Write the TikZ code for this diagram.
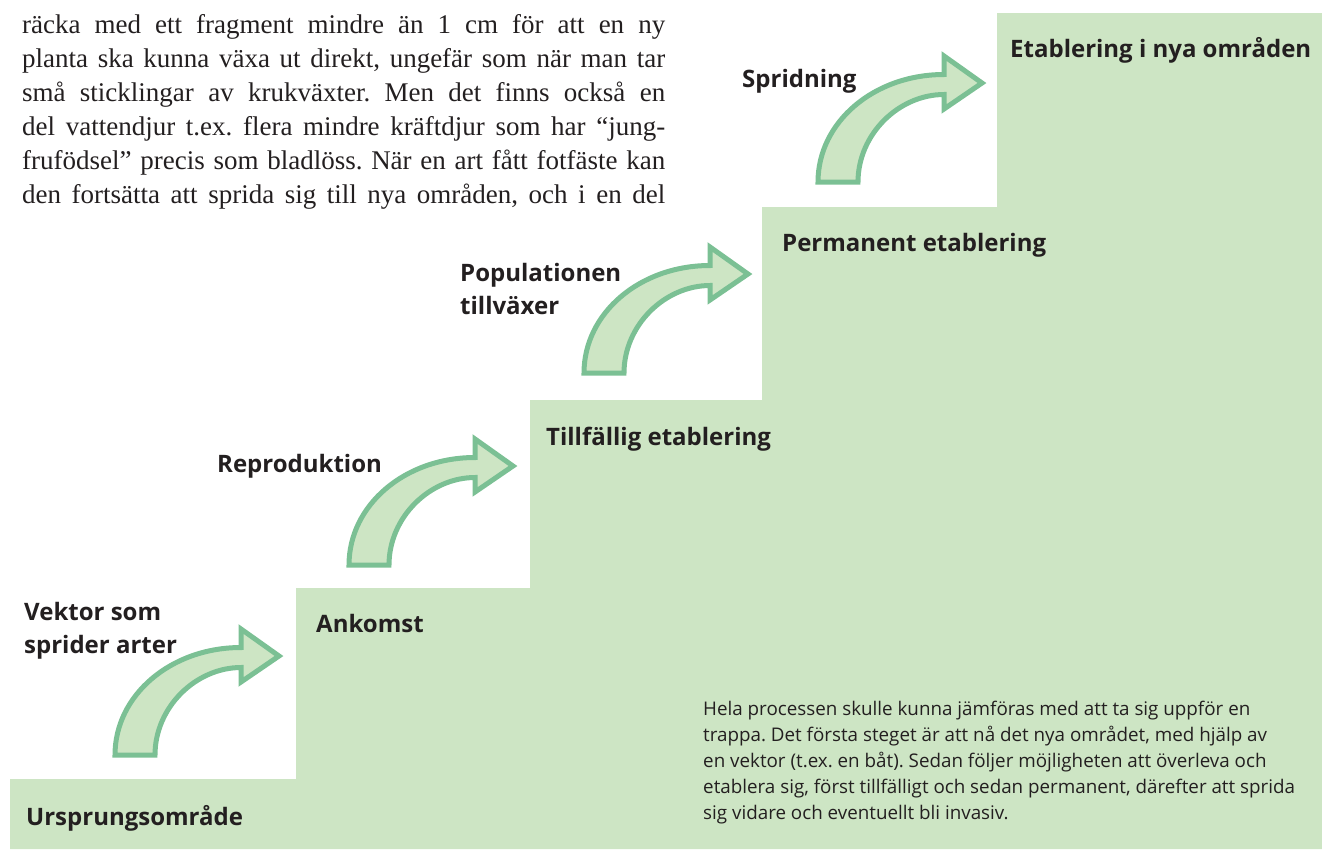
\documentclass[tikz,border=0pt]{standalone}
\usepackage{fontspec}
\setmainfont{Liberation Serif}
\newfontfamily\labfont{Open Sans}
\frenchspacing
\definecolor{stepgreen}{RGB}{205,229,196}
\definecolor{arrowline}{RGB}{123,192,148}
\definecolor{ink}{RGB}{35,31,32}
\tikzset{
  stairs/.style={fill=stepgreen, draw=none},
  bigarrow/.style={fill=stepgreen, draw=arrowline, line width=5pt, line join=miter},
  lab/.style={anchor=base west, inner sep=0pt, text=ink, font=\labfont\bfseries\fontsize{24}{30}\selectfont},
  bodytxt/.style={anchor=base west, inner sep=0pt, text=ink, font=\labfont\fontsize{18.8}{22}\selectfont},
  serif/.style={anchor=base west, inner sep=0pt, text=ink, font=\frenchspacing\fontsize{27}{30}\selectfont},
  curvarr/.pic={
    \path[bigarrow] (2,-2) .. controls (2,-62) and (58,-109.5) .. (128,-109.5)
      -- (128,-128) -- (166,-101) -- (128,-75) -- (128,-89.5)
      .. controls (83,-89.5) and (42,-50) .. (42,-2) -- cycle;
  }
}
\begin{document}
\begin{tikzpicture}[x=1pt,y=-1pt]
\useasboundingbox (0,0) rectangle (1322,849);
% staircase
\path[stairs] (10,849) -- (10,779) -- (296,779) -- (296,588) -- (530,588)
  -- (530,400) -- (762,400) -- (762,207) -- (997,207) -- (997,13)
  -- (1322,13) -- (1322,849) -- cycle;
% serif paragraph
\node[serif] (s1) at (22,33)  {\makebox[643pt][s]{räcka med ett fragment mindre än 1 cm för att en ny}};
\node[serif] (s2) at (22,67)  {\makebox[643pt][s]{planta ska kunna växa ut direkt, ungefär som när man tar}};
\node[serif] (s3) at (22,101) {\makebox[643pt][s]{små sticklingar av krukväxter. Men det finns också en}};
\node[serif] (s4) at (22,135) {\makebox[643pt][s]{del vattendjur t.ex. flera mindre kräftdjur som har “jung-}};
\node[serif] (s5) at (22,169) {\makebox[643pt][s]{frufödsel” precis som bladlöss. När en art fått fotfäste kan}};
\node[serif] (s6) at (22,203) {\makebox[643pt][s]{den fortsätta att sprida sig till nya områden, och i en del}};
% arrows
\pic at (113,757) {curvarr};
\pic at (347,567) {curvarr};
\pic at (582,375) {curvarr};
\pic at (816,184) {curvarr};
% labels
\node[lab] (l1) at (1010,57) {Etablering i nya områden};
\node[lab] (l2) at (742,87) {Spridning};
\node[lab] (l3) at (782,251) {Permanent etablering};
\node[lab] (l4a) at (460,281) {Populationen};
\node[lab] (l4b) at (460,314) {tillväxer};
\node[lab] (l5) at (546,445) {Tillfällig etablering};
\node[lab] (l6) at (217,472) {Reproduktion};
\node[lab] (l7a) at (24,620) {Vektor som};
\node[lab] (l7b) at (24,653) {sprider arter};
\node[lab] (l8) at (316,632) {Ankomst};
\node[lab] (l9) at (26,825) {Ursprungsområde};
% body text
\node[bodytxt] (b1) at (703,715) {Hela processen skulle kunna jämföras med att ta sig uppför en};
\node[bodytxt] (b2) at (703,741) {trappa. Det första steget är att nå det nya området, med hjälp av};
\node[bodytxt] (b3) at (703,767) {en vektor (t.ex. en båt). Sedan följer möjligheten att överleva och};
\node[bodytxt] (b4) at (703,793) {etablera sig, först tillfälligt och sedan permanent, därefter att sprida};
\node[bodytxt] (b5) at (703,819) {sig vidare och eventuellt bli invasiv.};
\end{tikzpicture}
\end{document}
